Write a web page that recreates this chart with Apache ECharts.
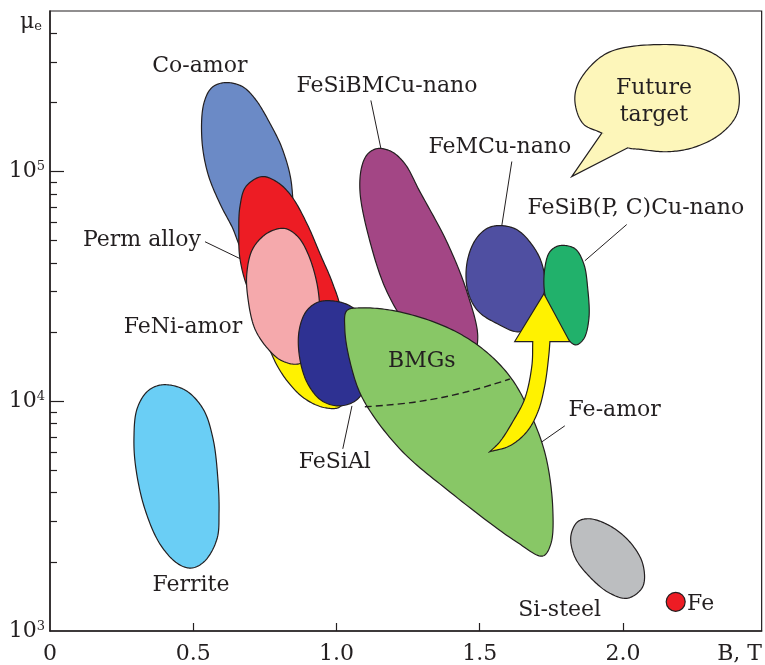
<!DOCTYPE html>
<html><head><meta charset="utf-8">
<script src="https://cdn.jsdelivr.net/npm/echarts@6/dist/echarts.min.js"></script>
<style>html,body{margin:0;padding:0;background:#fff}#c{width:765px;height:665px}</style>
</head><body><div id="c"></div>
<script>
// ---- axis ticks / labels ----
const xTickValues = [0.5, 1.0, 1.5, 2.0];
const xLabelValues = [0, 0.5, 1.0, 1.5, 2.0];
const xNamePos = 2.407;           // where "B, T" sits on the B axis
const yMajorTicks = [10000, 100000];
const yMinorTicks = [2000,3000,4000,5000,6000,7000,8000,9000,20000,30000,40000,50000,60000,70000,80000,90000,200000,300000,400000];
const yLabelValues = [1000, 10000, 100000];

// ---- region outlines: [B (T), mu_e] ----
const ferrite = [[0.394,11800],[0.471,11200],[0.534,9280],[0.569,6870],[0.586,4590],[0.590,3300],[0.583,2520],[0.541,2020],[0.495,1880],[0.447,1960],[0.384,2390],[0.331,3400],[0.300,5080],[0.293,6870],[0.304,9280],[0.342,11100]];
const coAmor = [[0.611,244000],[0.670,235000],[0.715,208000],[0.768,162000],[0.813,123500],[0.844,86100],[0.837,56500],[0.750,40900],[0.680,44000],[0.635,57600],[0.593,72600],[0.551,98000],[0.530,139000],[0.537,198000],[0.565,232000]];
const permAlloy = [[0.740,95100],[0.796,89500],[0.844,77800],[0.897,59300],[0.942,44000],[0.987,32500],[1.012,25300],[0.994,18700],[0.872,17800],[0.750,22900],[0.691,30900],[0.663,41800],[0.659,53700],[0.663,70400],[0.684,86100]];
const yellowZone = [[0.750,20700],[0.837,22200],[0.942,16900],[1.029,10800],[1.012,9460],[0.960,9370],[0.890,10250],[0.827,12300],[0.778,15600]];
const feNiAmor = [[0.820,56500],[0.865,52100],[0.900,44000],[0.932,32500],[0.942,24000],[0.935,17800],[0.872,14600],[0.810,15000],[0.761,16900],[0.715,20700],[0.691,28000],[0.687,36000],[0.708,46200],[0.761,54200]];
const feSiAl = [[0.977,27400],[1.040,26300],[1.089,23300],[1.110,17800],[1.106,12500],[1.075,10250],[1.012,9550],[0.949,10050],[0.900,11900],[0.872,15300],[0.869,20100],[0.893,24500],[0.932,26900]];
const feSiBMCuNano = [[1.144,126000],[1.193,122000],[1.239,108000],[1.291,81800],[1.385,49500],[1.455,30000],[1.493,18700],[1.465,14600],[1.361,16100],[1.256,20700],[1.176,30000],[1.117,49500],[1.082,81800],[1.089,106000],[1.110,119700]];
const bmgs = [[1.036,24800],[1.089,25500],[1.221,24500],[1.396,20700],[1.518,16600],[1.612,12500],[1.682,8560],[1.731,5730],[1.755,3400],[1.748,2390],[1.720,2120],[1.629,2440],[1.396,4030],[1.221,6210],[1.092,10250],[1.047,14900],[1.029,20700]];
const bmgsBoundary = [[1.099,9460],[1.281,9950],[1.455,11000],[1.605,12500]];
const feMCuNano = [[1.570,58200],[1.629,55900],[1.682,48100],[1.717,39700],[1.727,30900],[1.692,23300],[1.640,20100],[1.560,21800],[1.493,24800],[1.458,30300],[1.455,39700],[1.483,50000],[1.525,56500]];
const feSiBPCCuNano = [[1.779,47600],[1.832,46200],[1.863,39700],[1.877,30900],[1.881,22900],[1.863,18700],[1.835,17600],[1.800,19100],[1.755,23300],[1.727,29400],[1.727,37800],[1.745,44800]];
const arrowHead = [[1.724,29400],[1.814,18200],[1.622,18200]];           // tip, right corner, left corner
const arrowRightEdge = [[1.745,18200],[1.741,15800],[1.727,11700],[1.703,9000],[1.664,7360],[1.605,6400],[1.535,6030]];
const arrowLeftEdge = [[1.535,6030],[1.570,6660],[1.615,8140],[1.657,10250],[1.682,14300],[1.685,18200]];
const siSteel = [[1.884,3080],[1.954,2870],[2.024,2440],[2.069,1960],[2.069,1560],[2.017,1390],[1.954,1460],[1.884,1720],[1.832,2100],[1.818,2590],[1.842,2990]];
const fePoint = [[2.184,1340]];
const bubble = [[2.118,357000],[2.292,337000],[2.373,284000],[2.404,225000],[2.397,177000],[2.338,145000],[2.244,127000],[2.153,122000],[2.059,125000],[2.017,127000],[1.926,147000],[1.860,162000],[1.832,204000],[1.849,249000],[1.943,327000]];
const bubbleTail = [[1.926,147000],[1.821,95100],[2.017,127000]];

// ---- annotation texts ----
const labelText = ['Co-amor','FeSiBMCu-nano','FeMCu-nano','Future\ntarget','FeSiB(P, C)Cu-nano','Perm alloy','FeNi-amor','BMGs','Fe-amor','FeSiAl','Ferrite','Si-steel','Fe'];
const labelB    = [0.523, 1.176, 1.570, 2.108, 2.045, 0.321, 0.464, 1.298, 1.971, 0.994, 0.492, 1.779, 2.271];
const labelMu   = [292000, 239000, 130000, 206000, 70400, 51100, 21500, 15200, 9280, 5560, 1620, 1250, 1340];
// leader lines [B1, mu1, B2, mu2]
const leaders = [[0.541,49500,0.663,41800],[1.120,204000,1.155,126000],[1.612,110600,1.577,58200],[2.013,58800,1.867,40900],[1.797,7820,1.717,6660],[1.022,6210,1.054,9550]];

const INK = '#231F20';
const FONT = '"DejaVu Serif", serif';

// centripetal Catmull-Rom segment
function crSeg(p0, p1, p2, p3, steps, out) {
  const d = (a, b) => Math.max(Math.sqrt(Math.hypot(b[0] - a[0], b[1] - a[1])), 1e-4);
  const t0 = 0, t1 = t0 + d(p0, p1), t2 = t1 + d(p1, p2), t3 = t2 + d(p2, p3);
  for (let s = 0; s < steps; s++) {
    const t = t1 + (t2 - t1) * s / steps;
    const lerp = (a, b, ta, tb) => [((tb - t) * a[0] + (t - ta) * b[0]) / (tb - ta), ((tb - t) * a[1] + (t - ta) * b[1]) / (tb - ta)];
    const A1 = lerp(p0, p1, t0, t1), A2 = lerp(p1, p2, t1, t2), A3 = lerp(p2, p3, t2, t3);
    const B1 = lerp(A1, A2, t0, t2), B2 = lerp(A2, A3, t1, t3);
    out.push(lerp(B1, B2, t1, t2));
  }
}
function smoothClosed(pts, steps) {
  const n = pts.length, out = [];
  for (let i = 0; i < n; i++) crSeg(pts[(i - 1 + n) % n], pts[i], pts[(i + 1) % n], pts[(i + 2) % n], steps, out);
  return out;
}
function smoothOpen(pts, steps) {
  const n = pts.length, out = [];
  const pre = [2 * pts[0][0] - pts[1][0], 2 * pts[0][1] - pts[1][1]];
  const post = [2 * pts[n - 1][0] - pts[n - 2][0], 2 * pts[n - 1][1] - pts[n - 2][1]];
  const ext = [pre].concat(pts, [post]);
  for (let i = 1; i < n; i++) crSeg(ext[i - 1], ext[i], ext[i + 1], ext[i + 2], steps, out);
  out.push(pts[n - 1]);
  return out;
}

function region(name, pts, fill, z) {
  return {
    type: 'custom', name, data: pts, z, silent: true, clip: false,
    renderItem: (params, api) => {
      if (params.dataIndex !== 0) return null;
      const px = pts.map(p => api.coord(p));
      return { type: 'polygon', shape: { points: smoothClosed(px, 16) },
        style: { fill, stroke: INK, lineWidth: 1.2, lineJoin: 'round' } };
    }
  };
}

const series = [
  region('Ferrite', ferrite, '#6ACEF5', 2),
  region('Co-amor', coAmor, '#6B8AC6', 2),
  region('Perm alloy', permAlloy, '#ED1C24', 3),
  region('yellow', yellowZone, '#FFF200', 4),
  region('FeNi-amor', feNiAmor, '#F5A9AC', 5),
  region('FeSiAl', feSiAl, '#2E3192', 6),
  region('FeSiBMCu-nano', feSiBMCuNano, '#A34685', 6),
  region('BMGs', bmgs, '#88C766', 7),
  region('FeMCu-nano', feMCuNano, '#4F4FA1', 7),
  region('FeSiB(P, C)Cu-nano', feSiBPCCuNano, '#21B16B', 8),
  region('Si-steel', siSteel, '#BCBEC0', 7),
  region('bubble', bubble, '#FDF6BA', 7),
  {
    type: 'custom', name: 'arrow', data: arrowHead, z: 9, silent: true, clip: false,
    renderItem: (params, api) => {
      if (params.dataIndex !== 0) return null;
      const h = arrowHead.map(p => api.coord(p));
      const r = smoothOpen(arrowRightEdge.map(p => api.coord(p)), 12);
      const l = smoothOpen(arrowLeftEdge.map(p => api.coord(p)), 12);
      const pts = [h[0], h[1]].concat(r, l.slice(1), [h[2]]);
      return { type: 'polygon', shape: { points: pts }, style: { fill: '#FFF200', stroke: INK, lineWidth: 1.2, lineJoin: 'miter' } };
    }
  },
  {
    type: 'custom', name: 'tail', data: bubbleTail, z: 8, silent: true, clip: false,
    renderItem: (params, api) => {
      if (params.dataIndex !== 0) return null;
      const px = bubbleTail.map(p => api.coord(p));
      const inner = [(px[0][0] + px[2][0]) / 2 + 6, (px[0][1] + px[2][1]) / 2 - 8];
      return { type: 'group', children: [
        { type: 'polygon', shape: { points: [px[0], px[1], px[2], inner] }, style: { fill: '#FDF6BA', stroke: null } },
        { type: 'polyline', shape: { points: px }, style: { fill: null, stroke: INK, lineWidth: 1.2 } }
      ] };
    }
  },
  {
    type: 'line', name: 'boundary', data: bmgsBoundary, smooth: 0.4, symbol: 'none', z: 10, silent: true,
    lineStyle: { color: INK, width: 1.4, type: [7, 4] }
  },
  {
    type: 'scatter', name: 'Fe', data: fePoint, symbolSize: 19, z: 10, silent: true,
    itemStyle: { color: '#ED1C24', opacity: 1, borderColor: INK, borderWidth: 1.2 }
  },
  {
    type: 'custom', name: 'leaders', data: leaders, z: 10, silent: true, clip: false,
    encode: { x: [0, 2], y: [1, 3] },
    renderItem: (params, api) => {
      const a = api.coord([api.value(0), api.value(1)]), b = api.coord([api.value(2), api.value(3)]);
      return { type: 'line', shape: { x1: a[0], y1: a[1], x2: b[0], y2: b[1] }, style: { stroke: INK, lineWidth: 1 } };
    }
  },
  {
    type: 'custom', name: 'labels', data: labelB.map((b, i) => [b, labelMu[i]]), z: 11, silent: true, clip: false,
    renderItem: (params, api) => {
      const p = api.coord([api.value(0), api.value(1)]);
      return { type: 'text', x: p[0], y: p[1] + 2, style: {
        text: labelText[params.dataIndex], fontFamily: FONT, fontSize: 22, lineHeight: 27,
        fill: INK, align: 'center', verticalAlign: 'middle' } };
    }
  }
];

const chart = echarts.init(document.getElementById('c'), null, { renderer: 'canvas' });
chart.setOption({
  animation: false,
  backgroundColor: '#fff',
  grid: { left: 50, right: 3, top: 11, bottom: 33, show: true, borderColor: INK, borderWidth: 1.2 },
  xAxis: {
    type: 'value', min: 0, max: 2.484,
    axisLine: { lineStyle: { color: INK, width: 1.5 } },
    axisTick: { inside: true, length: 8, customValues: xTickValues, lineStyle: { color: INK, width: 1.2 } },
    axisLabel: {
      customValues: xLabelValues.concat([xNamePos]), margin: 12, color: INK, fontFamily: FONT, fontSize: 22,
      formatter: v => (Math.abs(v - xNamePos) < 1e-6 ? 'B, T' : (v === 0 ? '0' : v.toFixed(1)))
    },
    splitLine: { show: false }
  },
  yAxis: [{
    type: 'log', logBase: 10, min: 1000, max: 500000, position: 'left',
    axisLine: { lineStyle: { color: INK, width: 1.5 } },
    axisTick: { inside: true, length: 14, customValues: yMajorTicks, lineStyle: { color: INK, width: 1.2 } },
    axisLabel: {
      customValues: yLabelValues, margin: 5, color: INK, fontFamily: FONT,
      formatter: v => '{b|10}{s|' + Math.round(Math.log10(v)) + '}',
      rich: { b: { fontFamily: FONT, fontSize: 22, color: INK }, s: { fontFamily: FONT, fontSize: 13, color: INK, verticalAlign: 'top' } }
    },
    splitLine: { show: false }
  }, {
    type: 'log', logBase: 10, min: 1000, max: 500000, position: 'left',
    axisLine: { show: false },
    axisTick: { inside: true, length: 7, customValues: yMinorTicks, lineStyle: { color: INK, width: 1.2 } },
    axisLabel: {
      customValues: [500000], margin: 8, color: INK, fontFamily: FONT, padding: [22, 0, 0, 0],
      formatter: () => '{m|μ}{e|e}',
      rich: { m: { fontFamily: FONT, fontSize: 22, color: INK }, e: { fontFamily: FONT, fontSize: 13, color: INK, verticalAlign: 'bottom' } }
    },
    splitLine: { show: false }
  }],
  series
});
</script></body></html>
